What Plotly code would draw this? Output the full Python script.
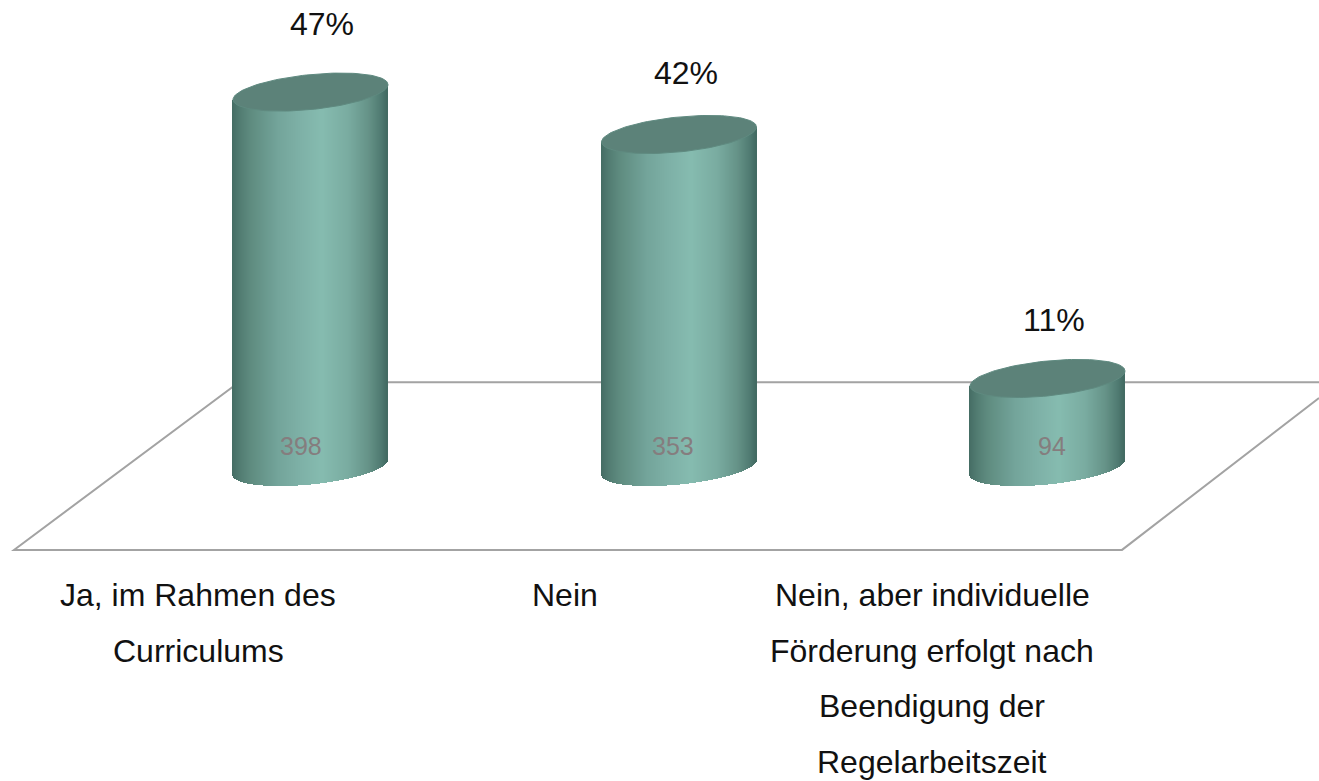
import numpy as np
import plotly.graph_objects as go

# ---- data ----
categories = ["Ja, im Rahmen des<br>Curriculums", "Nein",
              "Nein, aber individuelle<br>Förderung erfolgt nach<br>Beendigung der<br>Regelarbeitszeit"]
counts = [398, 353, 94]
percents = ["47%", "42%", "11%"]

# ---- canvas mapping (chart units, drawn through the axes) ----
W, H = 1319, 781
PX_PER_VALUE = 0.942
ZERO_PX = 467
PX_PER_CAT = 368.5
CAT0_PX = 310.5
yr = [(ZERO_PX - H) / PX_PER_VALUE, ZERO_PX / PX_PER_VALUE]
xr = [-CAT0_PX / PX_PER_CAT, (W - CAT0_PX) / PX_PER_CAT]
dx = lambda px: px / PX_PER_CAT
dy = lambda px: px / PX_PER_VALUE

RX, TILT, RY = 77.5, 7.5, 17.5
N = 155
stops_pos = [0, .05, .12, .3, .45, .58, .75, .88, .96, 1]
stops_r = [0x45, 0x52, 0x5f, 0x74, 0x7f, 0x86, 0x7a, 0x66, 0x50, 0x42]
stops_g = [0x6c, 0x7c, 0x8c, 0xa5, 0xb2, 0xbc, 0xac, 0x93, 0x7b, 0x6a]
stops_b = [0x64, 0x72, 0x80, 0x9b, 0xa8, 0xb0, 0xa1, 0x88, 0x72, 0x62]

fig = go.Figure()

# floor
floor_front, floor_back = -88, 90
floor_x = [xr[1], dx(239 - CAT0_PX), dx(14 - CAT0_PX), dx(1122 - CAT0_PX), xr[1]]
floor_y = [floor_back, floor_back, floor_front, floor_front, dy(467 - 398)]
fig.add_shape(type="path", layer="below",
              path="M " + " L ".join(f"{a},{b}" for a, b in zip(floor_x, floor_y)),
              line=dict(color="#a3a3a3", width=2))

t = (np.arange(N) + .5) / N
c = 2 * t - 1
strip_r = [f"rgb({int(r)},{int(g)},{int(b)})" for r, g, b in zip(
    np.interp(t, stops_pos, stops_r), np.interp(t, stops_pos, stops_g), np.interp(t, stops_pos, stops_b))]

th = np.linspace(0, 2 * np.pi, 121)
for i, v in enumerate(counts):
    base = dy(TILT * c - RY * np.sqrt(1 - c ** 2))
    top = v + dy(TILT * c)
    fig.add_trace(go.Bar(
        x=i + dx(RX) * c, y=top - base, base=base,
        width=dx(2 * RX / N) * 1.3,
        marker=dict(color=strip_r, line=dict(width=0)),
        hoverinfo="skip", showlegend=False))
    fig.add_trace(go.Scatter(
        x=i + dx(RX) * np.cos(th),
        y=v + dy(TILT * np.cos(th) + RY * np.sin(th)),
        mode="lines", fill="toself", fillcolor="#5c8279",
        line=dict(color="#5f8a80", width=1), hoverinfo="skip", showlegend=False))

FS = 32
for i, (v, p, off, cx, mid) in enumerate(zip(counts, percents, [67.7, 61.8, 58], [322, 686, 1054], [301, 673, 1052])):
    fig.add_annotation(x=dx(cx - CAT0_PX), y=v + dy(off), text=p, showarrow=False,
                       font=dict(size=FS, color="#111111"))
    fig.add_annotation(x=dx(mid - CAT0_PX), y=dy(467 - 446), text=str(v), showarrow=False,
                       font=dict(size=25, color="#857d7e"))

for i, cat in enumerate(categories):
    for j, line in enumerate(cat.split("<br>")):
        fig.add_annotation(x=dx(198 + 367 * i - CAT0_PX), y=dy(467 - (595 + 55.7 * j)),
                           text=line, showarrow=False, font=dict(size=FS, color="#111111"))

fig.update_layout(
    width=W, height=H, margin=dict(l=0, r=0, t=0, b=0),
    paper_bgcolor="white", plot_bgcolor="white",
    barmode="overlay", bargap=0, showlegend=False,
    font=dict(family="Liberation Sans"),
    xaxis=dict(range=xr, visible=False, fixedrange=True),
    yaxis=dict(range=yr, visible=False, fixedrange=True),
)
fig.write_html("out.html", config={"displayModeBar": False},
               post_script="document.body.style.margin='0';document.body.style.overflow='hidden';")
